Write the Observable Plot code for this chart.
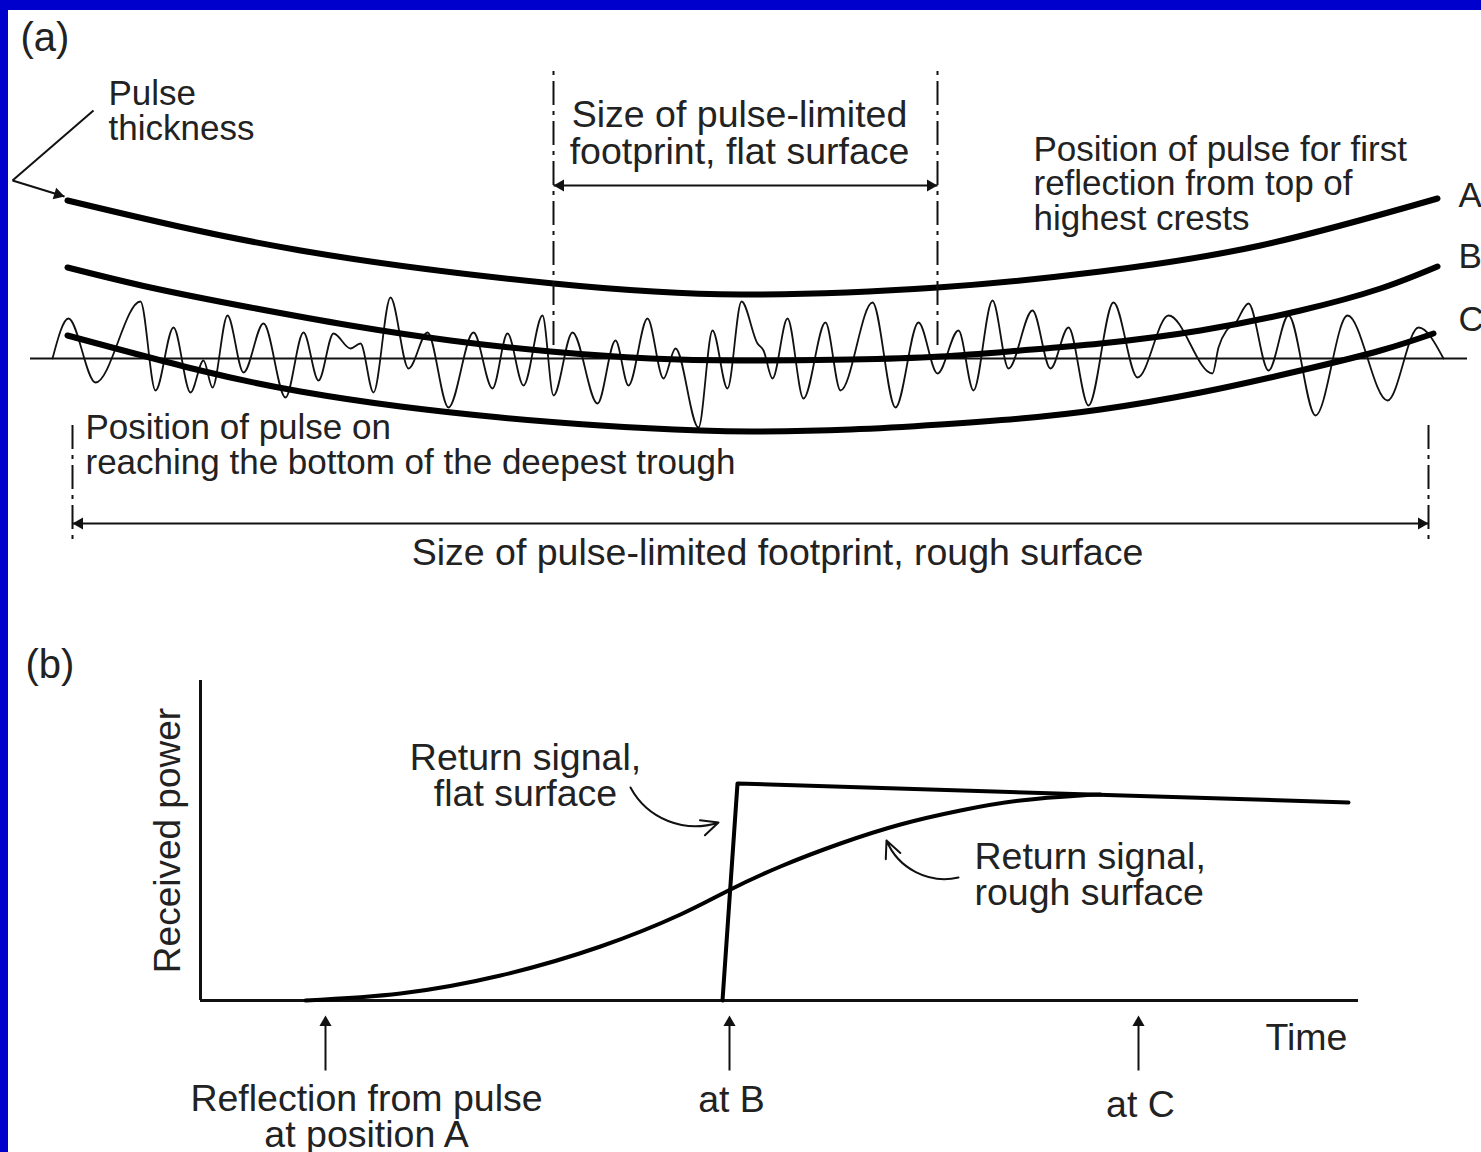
<!DOCTYPE html>
<html><head><meta charset="utf-8">
<script src="https://cdn.jsdelivr.net/npm/d3@7"></script>
<script src="https://cdn.jsdelivr.net/npm/@observablehq/plot@0.6"></script>
<style>
html,body{margin:0;padding:0;background:#0000cc;width:1481px;height:1152px;overflow:hidden;}
#wrap{position:absolute;left:8px;top:10px;width:1473px;height:1142px;background:#fff;overflow:hidden;}
#wrap svg{display:block;overflow:hidden;}
</style></head><body><div id="wrap"></div>
<script>
// ---------- Panel (a): along-track distance from nadir vs height above mean surface ----------
const curveA = [[-678,158],[-445,108],[-192,75],[-5,64],[192,71],[355,87],[515,113],[692,160]];
const curveB = [[-678,91],[-595,71],[-495,51],[-395,33],[-295,18],[-195,7],[-95,0],[-5,-2],[105,-1],[195,2],[275,8],[355,15],[455,28],[555,48],[635,70],[692,92]];
const curveC = [[-678,23],[-545,-12],[-445,-33],[-345,-48],[-245,-59],[-145,-67],[-45,-72],[15,-73],[105,-71],[195,-66],[275,-60],[355,-51],[455,-34],[555,-12],[635,8],[688,25]];
const surface = [[-693,0],[-677,40],[-650,-24],[-605,57],[-590,-32],[-572,31],[-555,-34],[-542,-2],[-533,-29],[-518,43],[-502,-14],[-482,35],[-460,-39],[-442,26],[-427,-22],[-412,25],[-395,10],[-385,15],[-372,-34],[-355,61],[-337,-10],[-318,26],[-297,-49],[-272,26],[-253,-30],[-238,25],[-222,-27],[-203,43],[-192,-37],[-173,26],[-148,-45],[-130,18],[-117,-27],[-98,40],[-82,-20],[-70,10],[-47,-69],[-33,28],[-18,-30],[-4,57],[12,15],[18,8],[27,-20],[42,40],[58,-40],[80,36],[95,-32],[127,56],[150,-49],[173,36],[192,-15],[213,28],[228,-32],[247,58],[263,-10],[287,48],[305,-10],[323,31],[343,-47],[368,56],[392,-19],[423,43],[467,-15],[473,11],[481,28],[489,34],[503,55],[523,-12],[543,43],[570,-57],[602,43],[642,-42],[673,31],[698,0]];
const meanLevel = [0];
const flatFootprint = [-192, 192];
const roughFootprint = [-673, 683];
const labelsAStart = [
  {text:"Pulse\nthickness", x:-637, y:247},
  {text:"Position of pulse for first\nreflection from top of\nhighest crests", x:288, y:174},
  {text:"A", x:713, y:162},
  {text:"B", x:713, y:101},
  {text:"C", x:713, y:38},
  {text:"Position of pulse on\nreaching the bottom of the deepest trough", x:-660, y:-87}
];
const labelsAMiddle = [
  {text:"Size of pulse-limited\nfootprint, flat surface", x:-6, y:225},
  {text:"Size of pulse-limited footprint, rough surface", x:32, y:-195}
];
const pulsePointer = [{x1:-652,y1:248,x2:-733,y2:178},{x1:-733,y1:178,x2:-681,y2:162}];

// ---------- Panel (b): time vs received power ----------
const flatReturn = [[522,0],[537,217],[1148,198]];
const roughReturn = [[105,0],[200,7],[300,25],[400,54],[480,86],[528,110],[580,134],[640,157],[700,176],[760,190],[820,200],[880,205],[900,206]];
const pulseTimes = [{t:125},{t:529},{t:938}];
const labelsBMiddle = [
  {text:"Return signal,\nflat surface", x:325, y:224},
  {text:"Reflection from pulse\nat position A", x:166, y:-117},
  {text:"at B", x:531, y:-100},
  {text:"at C", x:940, y:-105}
];
const labelsBStart = [
  {text:"Return signal,\nrough surface", x:774, y:125},
  {text:"Time", x:1065, y:-38}
];
const flatPointer = [{x1:430,y1:213,x2:518,y2:178}];
const roughPointer = [{x1:758,y1:123,x2:686,y2:160}];

const ink = "#111";
const txt = "#222";
const font = "'Liberation Sans', Arial, Helvetica, sans-serif";
const P = d => d[0], Q = d => d[1];

const panelA = Plot.plot({
  width: 1473, height: 600, margin: 0,
  x: {domain: [-737, 736], axis: null},
  y: {domain: [-252, 348], axis: null},
  style: {fontFamily: font, background: "white"},
  marks: [
    Plot.ruleY(meanLevel, {x1: -715, x2: 722, stroke: ink, strokeWidth: 2}),
    Plot.line(surface, {x: P, y: Q, curve: "monotone-x", stroke: ink, strokeWidth: 1.8}),
    Plot.line(curveA, {x: P, y: Q, curve: "natural", stroke: "#000", strokeWidth: 6}),
    Plot.line(curveB, {x: P, y: Q, curve: "natural", stroke: "#000", strokeWidth: 6}),
    Plot.line(curveC, {x: P, y: Q, curve: "natural", stroke: "#000", strokeWidth: 6}),
    Plot.ruleX(flatFootprint, {y1: 13, y2: 293, stroke: ink, strokeWidth: 2, strokeDasharray: "24,6,4,6"}),
    Plot.ruleX(roughFootprint, {y1: -67, y2: -182, stroke: ink, strokeWidth: 2, strokeDasharray: "24,6,4,6"}),
    Plot.link([flatFootprint], {x1: d => d[0], x2: d => d[1], y1: 173, y2: 173, stroke: ink, strokeWidth: 2}),
    Plot.dot([flatFootprint[0]], {x: d => d, y: 173, symbol: "triangle", r: 4.5, fill: ink, stroke: "none", rotate: -90, dx: 7}),
    Plot.dot([flatFootprint[1]], {x: d => d, y: 173, symbol: "triangle", r: 4.5, fill: ink, stroke: "none", rotate: 90, dx: -7}),
    Plot.link([roughFootprint], {x1: d => d[0], x2: d => d[1], y1: -165, y2: -165, stroke: ink, strokeWidth: 2}),
    Plot.dot([roughFootprint[0]], {x: d => d, y: -165, symbol: "triangle", r: 4.5, fill: ink, stroke: "none", rotate: -90, dx: 7}),
    Plot.dot([roughFootprint[1]], {x: d => d, y: -165, symbol: "triangle", r: 4.5, fill: ink, stroke: "none", rotate: 90, dx: -7}),
    Plot.link(pulsePointer, {x1: "x1", y1: "y1", x2: "x2", y2: "y2", stroke: ink, strokeWidth: 2}),
    Plot.dot([pulsePointer[1]], {x: "x2", y: "y2", symbol: "triangle", r: 4.5, fill: ink, stroke: "none", rotate: 107, dx: -6.7, dy: -2}),
    Plot.text(["(a)"], {x: -725, y: 320, text: d => d, textAnchor: "start", fontSize: 40, fill: txt}),
    Plot.text(labelsAStart, {x: "x", y: "y", text: "text", textAnchor: "start", fontSize: 35, lineHeight: 0.98, fill: txt}),
    Plot.text(labelsAMiddle, {x: "x", y: "y", text: "text", textAnchor: "middle", fontSize: 37.5, lineHeight: 0.99, fill: txt})
  ]
});

const panelB = Plot.plot({
  width: 1473, height: 542, margin: 0,
  x: {domain: [-192, 1281], axis: null},
  y: {domain: [-152, 390], axis: null},
  style: {fontFamily: font, background: "white"},
  marks: [
    Plot.ruleX([0], {y1: 0, y2: 320, stroke: ink, strokeWidth: 3}),
    Plot.ruleY([0], {x1: 0, x2: 1158, stroke: ink, strokeWidth: 3}),
    Plot.line(flatReturn, {x: P, y: Q, stroke: "#000", strokeWidth: 4}),
    Plot.line(roughReturn, {x: P, y: Q, curve: "natural", stroke: "#000", strokeWidth: 4}),
    Plot.link(pulseTimes, {x1: "t", x2: "t", y1: -70, y2: -18, stroke: ink, strokeWidth: 2}),
    Plot.dot(pulseTimes, {x: "t", y: -15, symbol: "triangle", r: 4.5, fill: ink, stroke: "none", dy: 7}),
    Plot.arrow(flatPointer, {x1: "x1", y1: "y1", x2: "x2", y2: "y2", bend: -40, stroke: ink, strokeWidth: 2, headLength: 14, headAngle: 50}),
    Plot.arrow(roughPointer, {x1: "x1", y1: "y1", x2: "x2", y2: "y2", bend: 40, stroke: ink, strokeWidth: 2, headLength: 14, headAngle: 50}),
    Plot.text(["(b)"], {x: -175, y: 335, text: d => d, textAnchor: "start", fontSize: 40, fill: txt}),
    Plot.text(["Received power"], {x: -32, y: 160, text: d => d, rotate: -90, textAnchor: "middle", fontSize: 37, fill: txt}),
    Plot.text(labelsBMiddle, {x: "x", y: "y", text: "text", textAnchor: "middle", fontSize: 37.5, lineHeight: 0.96, fill: txt}),
    Plot.text(labelsBStart, {x: "x", y: "y", text: "text", textAnchor: "start", fontSize: 37.5, lineHeight: 0.96, fill: txt})
  ]
});

document.getElementById("wrap").append(panelA, panelB);
</script></body></html>
